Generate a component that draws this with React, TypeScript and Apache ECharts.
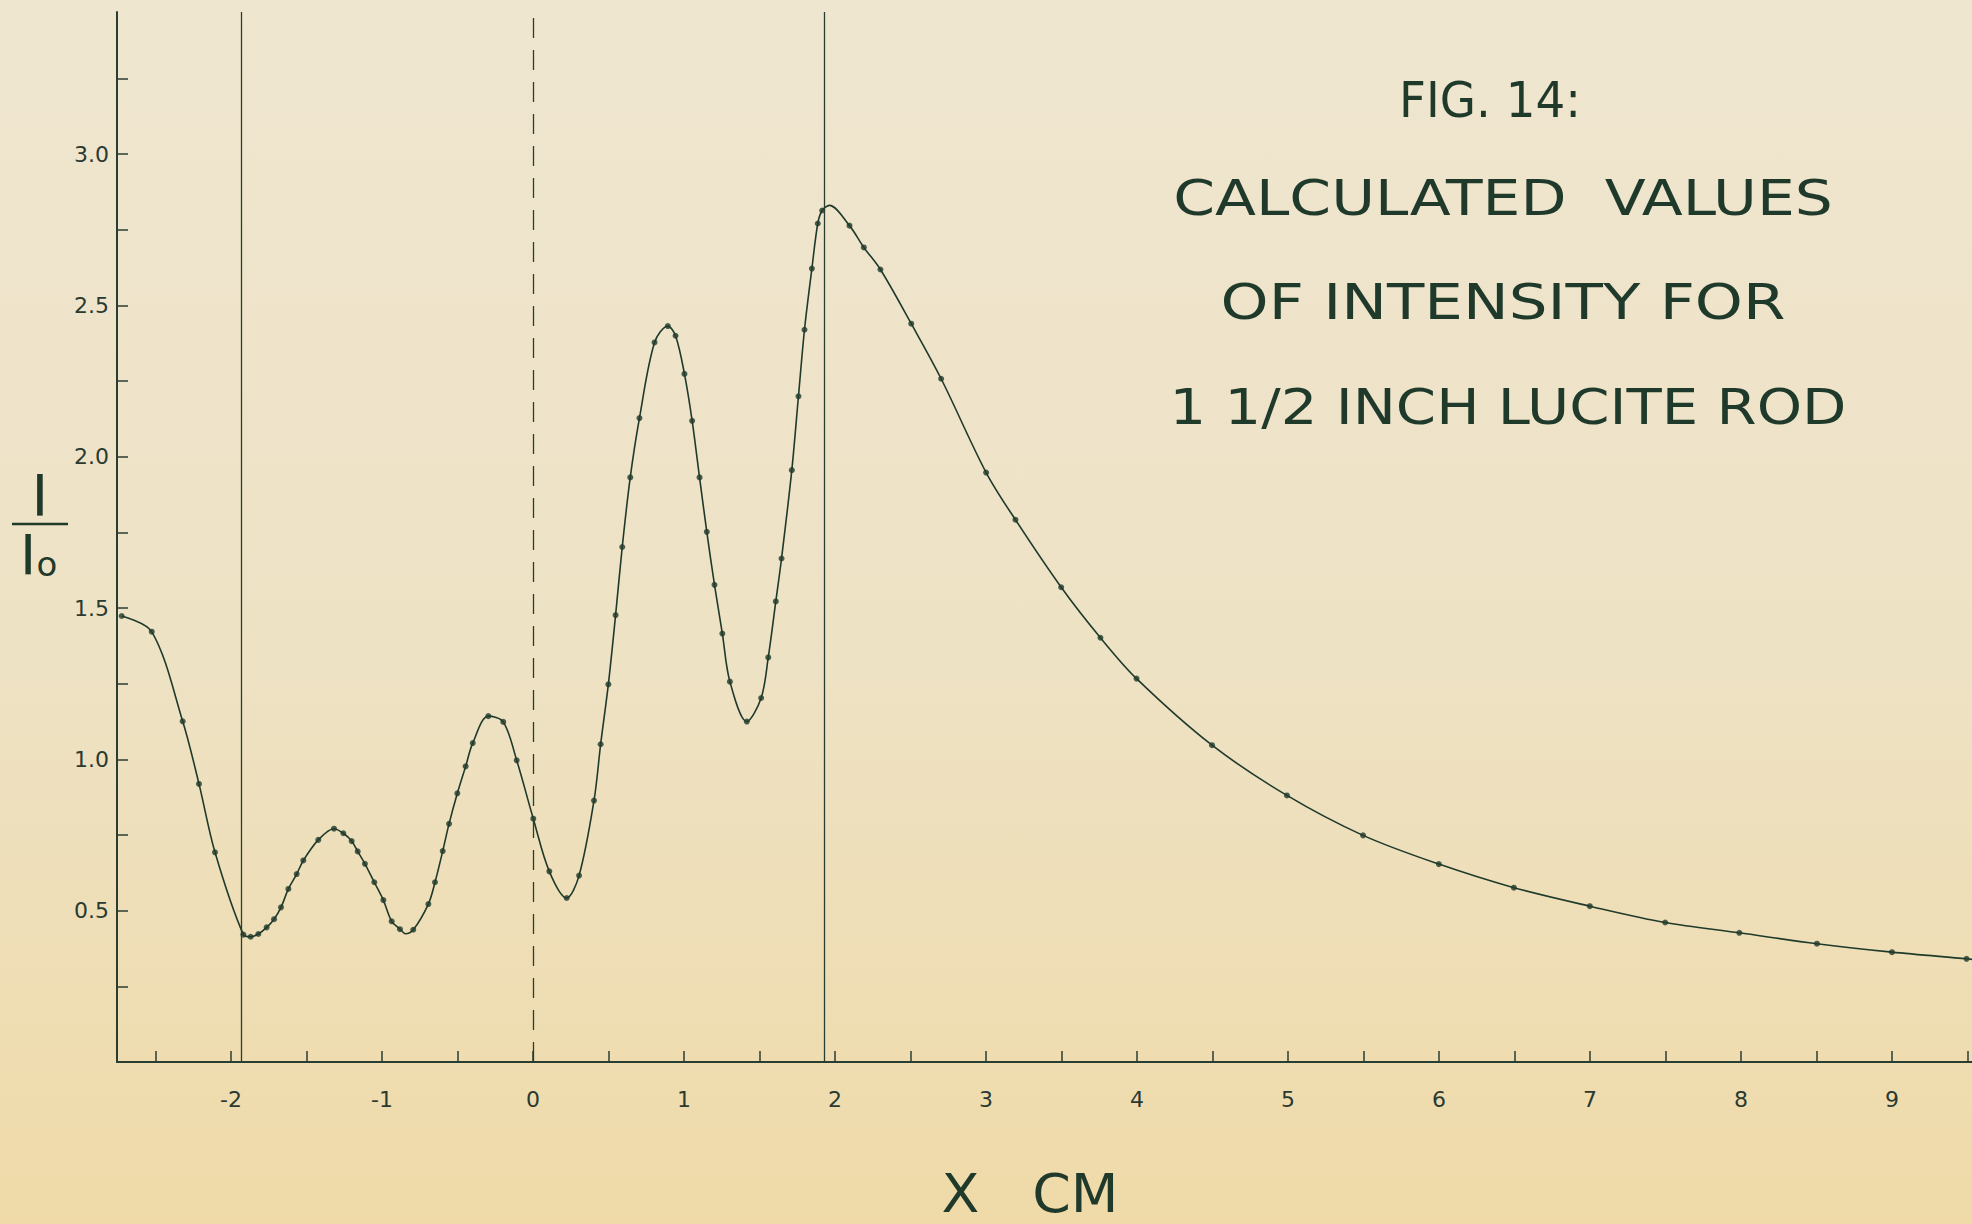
import React, { useEffect, useRef } from "react";
import * as echarts from "echarts";

// ---- data ----
const dotX = [
  -2.724, -2.525, -2.32, -2.212, -2.106, -1.918, -1.87, -1.819, -1.764, -1.715,
  -1.669, -1.62, -1.565, -1.521, -1.422, -1.318, -1.256, -1.201, -1.161, -1.113,
  -1.051, -0.991, -0.936, -0.881, -0.793, -0.693, -0.649, -0.598, -0.556, -0.501,
  -0.446, -0.399, -0.296, -0.197, -0.108, 0.002, 0.108, 0.223, 0.305, 0.404,
  0.448, 0.499, 0.547, 0.591, 0.644, 0.705, 0.805, 0.893, 0.944, 1.003,
  1.054, 1.103, 1.151, 1.202, 1.254, 1.304, 1.416, 1.511, 1.558, 1.608,
  1.646, 1.714, 1.758, 1.798, 1.847, 1.886, 1.915, 2.096, 2.191, 2.301,
  2.505, 2.703, 3.001, 3.195, 3.498, 3.758, 3.997, 4.497, 4.993, 5.497,
  5.999, 6.496, 6.999, 7.498, 7.989, 8.503, 9.0, 9.494,
];
const dotY = [
  1.474, 1.422, 1.126, 0.919, 0.693, 0.421, 0.414, 0.423, 0.445, 0.472,
  0.511, 0.572, 0.621, 0.666, 0.734, 0.771, 0.756, 0.73, 0.696, 0.655,
  0.594, 0.535, 0.465, 0.439, 0.437, 0.522, 0.594, 0.697, 0.787, 0.888,
  0.977, 1.054, 1.143, 1.124, 0.997, 0.804, 0.63, 0.542, 0.616, 0.864,
  1.05, 1.248, 1.477, 1.702, 1.932, 2.128, 2.378, 2.432, 2.4, 2.274,
  2.119, 1.932, 1.752, 1.577, 1.416, 1.257, 1.125, 1.203, 1.337, 1.522,
  1.664, 1.956, 2.2, 2.42, 2.622, 2.771, 2.814, 2.764, 2.692, 2.619,
  2.44, 2.258, 1.948, 1.792, 1.569, 1.402, 1.267, 1.047, 0.881, 0.749,
  0.654, 0.576, 0.515, 0.461, 0.427, 0.391, 0.363, 0.341,
];
// points on the drawn curve that carry no dot (extrema, right end)
const curveOnlyX = [-0.845, 1.963, 9.53];
const curveOnlyY = [0.424, 2.831, 0.339];

const xTickValues = [-2.5, -2, -1.5, -1, -0.5, 0, 0.5, 1, 1.5, 2, 2.5, 3, 3.5, 4, 4.5, 5, 5.5, 6, 6.5, 7, 7.5, 8, 8.5, 9, 9.5];
const xLabelValues = [-2, -1, 0, 1, 2, 3, 4, 5, 6, 7, 8, 9];
const yTickValues = [0.25, 0.5, 0.75, 1, 1.25, 1.5, 1.75, 2, 2.25, 2.5, 2.75, 3, 3.25];
const yLabelValues = [0.5, 1, 1.5, 2, 2.5, 3];
const rodEdges = [-1.925, 1.925];
const centerLine = [0];

const titleLines = ["FIG. 14:", "CALCULATED  VALUES", "OF INTENSITY FOR", "1 1/2 INCH LUCITE ROD"];
const xAxisTitle = "X   CM";
const yNumerator = "I";
const yDenomMain = "I";
const yDenomSub = "o";

const INK = "#1f3a2b";
const FONT = '"DejaVu Sans", "Liberation Sans", sans-serif';

function measure(text: string, font: string): number {
  const c = document.createElement("canvas").getContext("2d");
  if (!c) return 1;
  c.font = font;
  return c.measureText(text).width || 1;
}

export default function App() {
  const ref = useRef<HTMLDivElement>(null);

  useEffect(() => {
    if (!ref.current) return;
    const chart = echarts.init(ref.current, undefined, { renderer: "svg" });

    const curve: [number, number][] = [];
    dotX.forEach((x, i) => curve.push([x, dotY[i]]));
    curveOnlyX.forEach((x, i) => curve.push([x, curveOnlyY[i]]));
    curve.sort((a, b) => a[0] - b[0]);
    const dots = dotX.map((x, i) => [x, dotY[i]]);

    const titleFontSize = 50;
    const titleFont = `normal ${titleFontSize}px ${FONT}`;
    const titleLayout = [
      { cx: 1490, cy: 99, w: 182 },
      { cx: 1503, cy: 198, w: 660 },
      { cx: 1503, cy: 302, w: 565 },
      { cx: 1508, cy: 407, w: 677 },
    ];
    const titleGraphics = titleLines.map((t, i) => {
      const L = titleLayout[i];
      const sx = L.w / measure(t, titleFont);
      return {
        type: "text",
        x: L.cx,
        y: L.cy,
        scaleX: sx,
        style: {
          text: t,
          font: titleFont,
          fill: INK,
          align: "center",
          verticalAlign: "middle",
        },
        silent: true,
      };
    });

    const xtFont = `normal 54px ${FONT}`;
    const xtScale = 177 / measure(xAxisTitle, xtFont);

    chart.setOption({
      animation: false,
      backgroundColor: "transparent",
      grid: { left: 117, top: 12, right: 0, bottom: 162, containLabel: false },
      xAxis: {
        type: "value",
        min: -2.755,
        max: 9.53,
        axisLine: { show: true, onZero: false, lineStyle: { color: "#2a3d31", width: 2 } },
        axisTick: {
          show: true,
          inside: true,
          length: 11,
          customValues: xTickValues,
          lineStyle: { color: "#2a3d31", width: 1.5 },
        },
        axisLabel: {
          show: true,
          customValues: xLabelValues,
          formatter: (v: number) => String(v),
          margin: 26,
          fontSize: 22,
          fontFamily: FONT,
          color: "#2a3a30",
        },
        splitLine: { show: false },
      },
      yAxis: {
        type: "value",
        min: 0,
        max: 3.47,
        axisLine: { show: true, onZero: false, lineStyle: { color: "#2a3d31", width: 2 } },
        axisTick: {
          show: true,
          inside: true,
          length: 11,
          customValues: yTickValues,
          lineStyle: { color: "#2a3d31", width: 1.5 },
        },
        axisLabel: {
          show: true,
          customValues: yLabelValues,
          formatter: (v: number) => v.toFixed(1),
          margin: 8,
          fontSize: 22,
          fontFamily: FONT,
          color: "#2a3a30",
        },
        splitLine: { show: false },
      },
      series: [
        {
          type: "line",
          data: curve,
          symbol: "none",
          smooth: 0.33,
          lineStyle: { color: INK, width: 1.6 },
          z: 3,
          markLine: {
            silent: true,
            symbol: ["none", "none"],
            label: { show: false },
            lineStyle: { color: "#2a3d31", width: 1.3, type: "solid" },
            data: [
              ...rodEdges.map((v) => ({ xAxis: v })),
              ...centerLine.map((v) => ({ xAxis: v, lineStyle: { type: [20, 12], width: 1.3, color: "#2a3d31" } })),
            ],
          },
        },
        {
          type: "scatter",
          data: dots,
          symbol: "circle",
          symbolSize: 6,
          itemStyle: { color: INK },
          z: 4,
        },
      ],
      graphic: [
        ...titleGraphics,
        {
          type: "text",
          x: 1030,
          y: 1193,
          scaleX: xtScale,
          style: { text: xAxisTitle, font: xtFont, fill: INK, align: "center", verticalAlign: "middle" },
          silent: true,
        },
        {
          type: "text",
          x: 40,
          y: 496,
          style: { text: yNumerator, font: `normal 57px ${FONT}`, fill: INK, align: "center", verticalAlign: "middle" },
          silent: true,
        },
        {
          type: "line",
          shape: { x1: 12, y1: 524, x2: 68, y2: 524 },
          style: { stroke: INK, lineWidth: 2.5 },
          silent: true,
        },
        {
          type: "text",
          x: 28,
          y: 555,
          style: { text: yDenomMain, font: `normal 55px ${FONT}`, fill: INK, align: "center", verticalAlign: "middle" },
          silent: true,
        },
        {
          type: "text",
          x: 47,
          y: 564,
          style: { text: yDenomSub, font: `normal 34px ${FONT}`, fill: INK, align: "center", verticalAlign: "middle" },
          silent: true,
        },
      ],
    });

    return () => chart.dispose();
  }, []);

  return (
    <div
      style={{
        position: "fixed",
        left: 0,
        top: 0,
        width: 1972,
        height: 1224,
        background: "linear-gradient(180deg, #EFE6D0 0%, #EEE2C4 55%, #EFDAA8 100%)",
      }}
    >
      <div ref={ref} style={{ width: 1972, height: 1224 }} />
    </div>
  );
}
